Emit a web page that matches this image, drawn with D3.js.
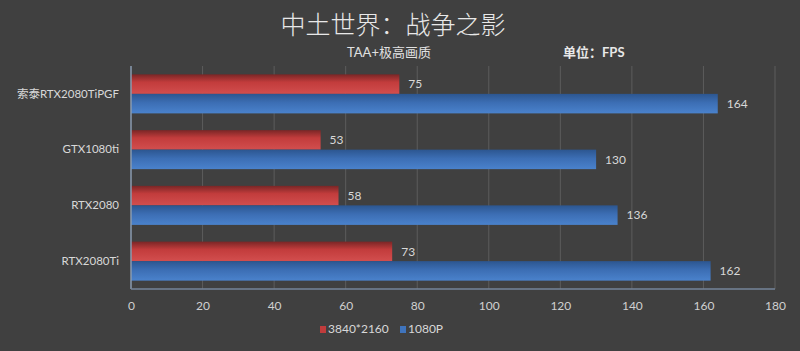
<!DOCTYPE html>
<html>
<head>
<meta charset="utf-8">
<script src="https://cdn.jsdelivr.net/npm/d3@7"></script>
<style>
  html, body { margin: 0; padding: 0; background: #404040; }
  svg { display: block; }
  text { font-family: Lato, "Noto Sans CJK SC", sans-serif; }
</style>
</head>
<body>
<div class="chart"></div>
<script>
// chart size
var width = 800;
var height = 351;
var margin = { top: 66, right: 25, bottom: 62, left: 131 };

// data
var categories = ["索泰RTX2080TiPGF", "GTX1080ti", "RTX2080", "RTX2080Ti"];
var seriesNames = ["3840*2160", "1080P"];
var values4k = [75, 53, 58, 73];
var values1080 = [164, 130, 136, 162];
var xTicks = [0, 20, 40, 60, 80, 100, 120, 140, 160, 180];

var rows = categories.map((c, i) => ({ name: c, vals: [values4k[i], values1080[i]] }));

const svg = d3.select(".chart")
  .append("svg")
  .attr("width", width)
  .attr("height", height);

svg.append("rect").attr("width", width).attr("height", height).attr("fill", "#404040");

// gradients for the bars
var defs = svg.append("defs");
var gRed = defs.append("linearGradient").attr("id", "gRed").attr("x1", 0).attr("x2", 0).attr("y1", 0).attr("y2", 1);
gRed.append("stop").attr("offset", "0%").attr("stop-color", "#7a2626");
gRed.append("stop").attr("offset", "40%").attr("stop-color", "#c23c3c");
gRed.append("stop").attr("offset", "100%").attr("stop-color", "#d24e4e");
var gBlue = defs.append("linearGradient").attr("id", "gBlue").attr("x1", 0).attr("x2", 0).attr("y1", 0).attr("y2", 1);
gBlue.append("stop").attr("offset", "0%").attr("stop-color", "#2c5690");
gBlue.append("stop").attr("offset", "45%").attr("stop-color", "#3c6eb4");
gBlue.append("stop").attr("offset", "100%").attr("stop-color", "#4a82cc");
var fills = ["url(#gRed)", "url(#gBlue)"];
var legendColors = ["#c03c3c", "#3f74bd"];

var iw = width - margin.left - margin.right;
var ih = height - margin.top - margin.bottom;

var x = d3.scaleLinear().domain([0, 180]).range([0, iw]);
var y = d3.scaleBand().domain(categories).range([0, ih]).paddingInner(0.3).paddingOuter(0.15);
var ySub = d3.scaleBand().domain([0, 1]).range([0, y.bandwidth()]);

const g = svg.append("g").attr("transform", "translate(" + margin.left + "," + margin.top + ")");

// grid lines
g.append("g")
  .selectAll("line")
  .data(xTicks.slice(1))
  .enter()
  .append("line")
  .attr("x1", d => x(d)).attr("x2", d => x(d))
  .attr("y1", 0).attr("y2", ih)
  .attr("stroke", "#5c5c5c")
  .attr("stroke-width", 1);

// bars
var grp = g.selectAll(".grp")
  .data(rows)
  .enter()
  .append("g")
  .attr("class", "grp")
  .attr("transform", d => "translate(0," + y(d.name) + ")");

grp.selectAll("rect")
  .data(d => d.vals)
  .enter()
  .append("rect")
  .attr("x", 0)
  .attr("y", (d, i) => ySub(i))
  .attr("width", d => x(d))
  .attr("height", ySub.bandwidth())
  .attr("fill", (d, i) => fills[i]);

grp.selectAll("text.val")
  .data(d => d.vals)
  .enter()
  .append("text")
  .attr("class", "val")
  .attr("x", d => x(d) + 9)
  .attr("y", (d, i) => ySub(i) + ySub.bandwidth() / 2)
  .attr("dy", "0.35em")
  .attr("font-size", 12)
  .attr("fill", "#d8d8d8")
  .text(d => d);

// left axis line and bottom line
g.append("line")
  .attr("x1", 0).attr("x2", 0).attr("y1", 0).attr("y2", ih)
  .attr("stroke", "#8a9bb0").attr("stroke-width", 1.5);
g.append("line")
  .attr("x1", 0).attr("x2", iw).attr("y1", ih).attr("y2", ih)
  .attr("stroke", "#74849a").attr("stroke-width", 1.5);

// category labels
const yAxis = d3.axisLeft(y).tickSize(0).tickPadding(12);
g.append("g")
  .call(yAxis)
  .call(a => a.select(".domain").remove())
  .call(a => a.selectAll(".tick text")
    .attr("font-size", 11.5)
    .attr("font-family", "Lato, 'Noto Sans CJK SC', sans-serif")
    .attr("fill", "#d8d8d8"));

// x axis labels
const xAxis = d3.axisBottom(x).tickValues(xTicks).tickSize(0).tickPadding(12);
g.append("g")
  .attr("transform", "translate(0," + ih + ")")
  .call(xAxis)
  .call(a => a.select(".domain").remove())
  .call(a => a.selectAll(".tick text")
    .attr("font-size", 12)
    .attr("font-family", "Lato, sans-serif")
    .attr("fill", "#d0d0d0"));

// titles
svg.append("text")
  .attr("x", 393).attr("y", 34)
  .attr("text-anchor", "middle")
  .attr("font-size", 25)
  .attr("font-family", "'Noto Sans CJK SC', sans-serif")
  .attr("font-weight", 300)
  .attr("fill", "#e8e8e8")
  .text("中土世界：战争之影");

svg.append("text")
  .attr("x", 389).attr("y", 57)
  .attr("text-anchor", "middle")
  .attr("font-size", 13)
  .attr("fill", "#e0e0e0")
  .text("TAA+极高画质");

svg.append("text")
  .attr("x", 563).attr("y", 57)
  .attr("font-size", 13)
  .attr("font-weight", "bold")
  .attr("fill", "#e8e8e8")
  .text("单位：FPS");

// legend
var legend = svg.append("g").attr("transform", "translate(320,329)");
var lx = [0, 80];
var li = legend.selectAll("g")
  .data(seriesNames)
  .enter()
  .append("g")
  .attr("transform", (d, i) => "translate(" + lx[i] + ",0)");
li.append("rect")
  .attr("x", 0).attr("y", -3)
  .attr("width", 6).attr("height", 7)
  .attr("fill", (d, i) => legendColors[i]);
li.append("text")
  .attr("x", 8).attr("y", 0)
  .attr("dy", "0.35em")
  .attr("font-size", 12)
  .attr("fill", "#d8d8d8")
  .text(d => d);
</script>
</body>
</html>
